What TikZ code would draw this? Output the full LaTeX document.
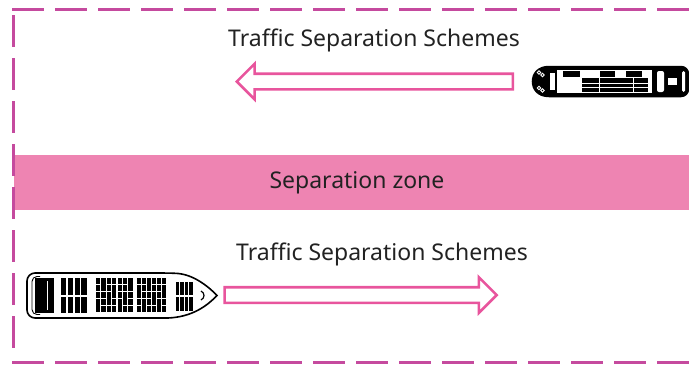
\documentclass[tikz,border=0pt]{standalone}
\usepackage{fontspec}
\setmainfont{Noto Sans}
\usetikzlibrary{shapes.arrows}
\definecolor{border}{HTML}{C54A9E}
\definecolor{zonepink}{HTML}{EE84B2}
\definecolor{lanepink}{HTML}{E8559D}
\definecolor{ink}{HTML}{222222}

\begin{document}
\begin{tikzpicture}[x=1pt, y=-1pt, font=\fontsize{23}{27}\selectfont,
    edge/.style={draw=border, line width=3pt, dash pattern=on 32pt off 11pt},
    lanearrow/.style={single arrow, draw=lanepink, line width=2.6pt, fill=white,
                      inner sep=0pt, text height=6.5pt, text depth=6.5pt,
                      minimum width=33pt, anchor=tip,
                      single arrow head extend=10pt, single arrow tip angle=90},
    lanetext/.style={text=ink, inner sep=0pt},
    cargo/.style={fill=black}]
  \useasboundingbox (0,0) rectangle (689,365);

  % separation zone
  \fill[zonepink] (14,155) rectangle (689,210);
  \node[lanetext] (zone) at (357,183) {Separation zone};

  % dashed frame
  \draw[edge] (12,9) -- (689,9);
  \draw[edge] (13,15) -- (13,358);
  \draw[edge] (12,362) -- (689,362);

  % westbound lane
  \node[lanetext] (northText) at (374,40.5) {Traffic Separation Schemes};
  \node[lanearrow, minimum height=276pt, shape border rotate=180] (westLane) at (235,81.5) {};

  % eastbound lane
  \node[lanetext] (southText) at (382,254.5) {Traffic Separation Schemes};
  \node[lanearrow, minimum height=272pt] (eastLane) at (498.5,295) {};

  % ship heading west
  \draw[line width=2.5pt, fill=black] (549,67) [rounded corners=7]-- (688,67) -- (688,96)
    [sharp corners]-- (549,96) .. controls (538,96) and (533,89) .. (533,81.5)
    .. controls (533,74) and (538,67) .. (549,67) -- cycle;
  \fill[white] (550,73) rectangle (555,90);
  \fill[white] (557,70) rectangle (652,93);
  \fill[white, rounded corners=2] (657,71) rectangle (664,92);
  \fill[white] (668,78) rectangle (677,85);
  \fill[white, rounded corners=1.5] (682,71) rectangle (685,92);
  \draw[white, line width=0.8pt] (539,72.5) circle (1.7) (542.5,75) circle (1.7)
    (539,88) circle (1.7) (542.5,90.5) circle (1.7);
  \fill[cargo] (563,71) rectangle (580,76.5);
  \fill[cargo] (600,71) rectangle (615,76.5);
  \fill[cargo] (626,71) rectangle (642,76.5);
  \fill[cargo] (582,78) rectangle (648,91.5);
  \draw[white, line width=0.7pt] (582,83) -- (648,83) (582,87.5) -- (648,87.5)
    (599,78) -- (599,91.5) (633,78) -- (633,91.5);

  % ship heading east
  \draw[line width=1.6pt, fill=white] (168,273) .. controls (192,274) and (207,285) .. (217,295.5)
    .. controls (207,306) and (192,317) .. (168,318) [rounded corners=8]-- (27,318)
    -- (27,273) -- cycle;
  \draw[line width=0.9pt, rounded corners=5] (40,276.5) -- (32,276.5) -- (32,314.5) -- (40,314.5);
  \fill[cargo] (35,278) rectangle (54,313);
  \fill[white] (46.5,281) rectangle (48,310);
  \foreach \i in {0,...,3} {
    \fill[cargo] (61+\i*6.8,278) rectangle +(5.4,16.5);
    \fill[cargo] (61+\i*6.8,297) rectangle +(5.4,16);
  }
  \foreach \c in {0,...,6}
    \foreach \r in {0,...,4}
      \fill[cargo] (96+\c*5.4,278+\r*7.1) rectangle +(4.2,5.8);
  \foreach \c/\r in {1/0,3/1,5/2,0/3,4/3,2/2,6/0}
    \fill[cargo] (96+\c*5.4,283+\r*7.1) rectangle +(4.2,2);
  \foreach \c in {0,...,5}
    \foreach \r in {0,...,4}
      \fill[cargo] (137+\c*5,278+\r*7.1) rectangle +(4,5.8);
  \foreach \c/\r in {0/1,2/0,3/2,5/1,1/3,4/3}
    \fill[cargo] (137+\c*5,283+\r*7.1) rectangle +(4,2);
  \foreach \i in {0,...,3} {
    \fill[cargo] (176+\i*4.4,282) rectangle +(3.4,13);
    \fill[cargo] (176+\i*4.4,297) rectangle +(3.4,14);
  }
  \draw[line width=1.2pt] (201,291) .. controls (205,293) and (205,298) .. (201,300);
\end{tikzpicture}
\end{document}
